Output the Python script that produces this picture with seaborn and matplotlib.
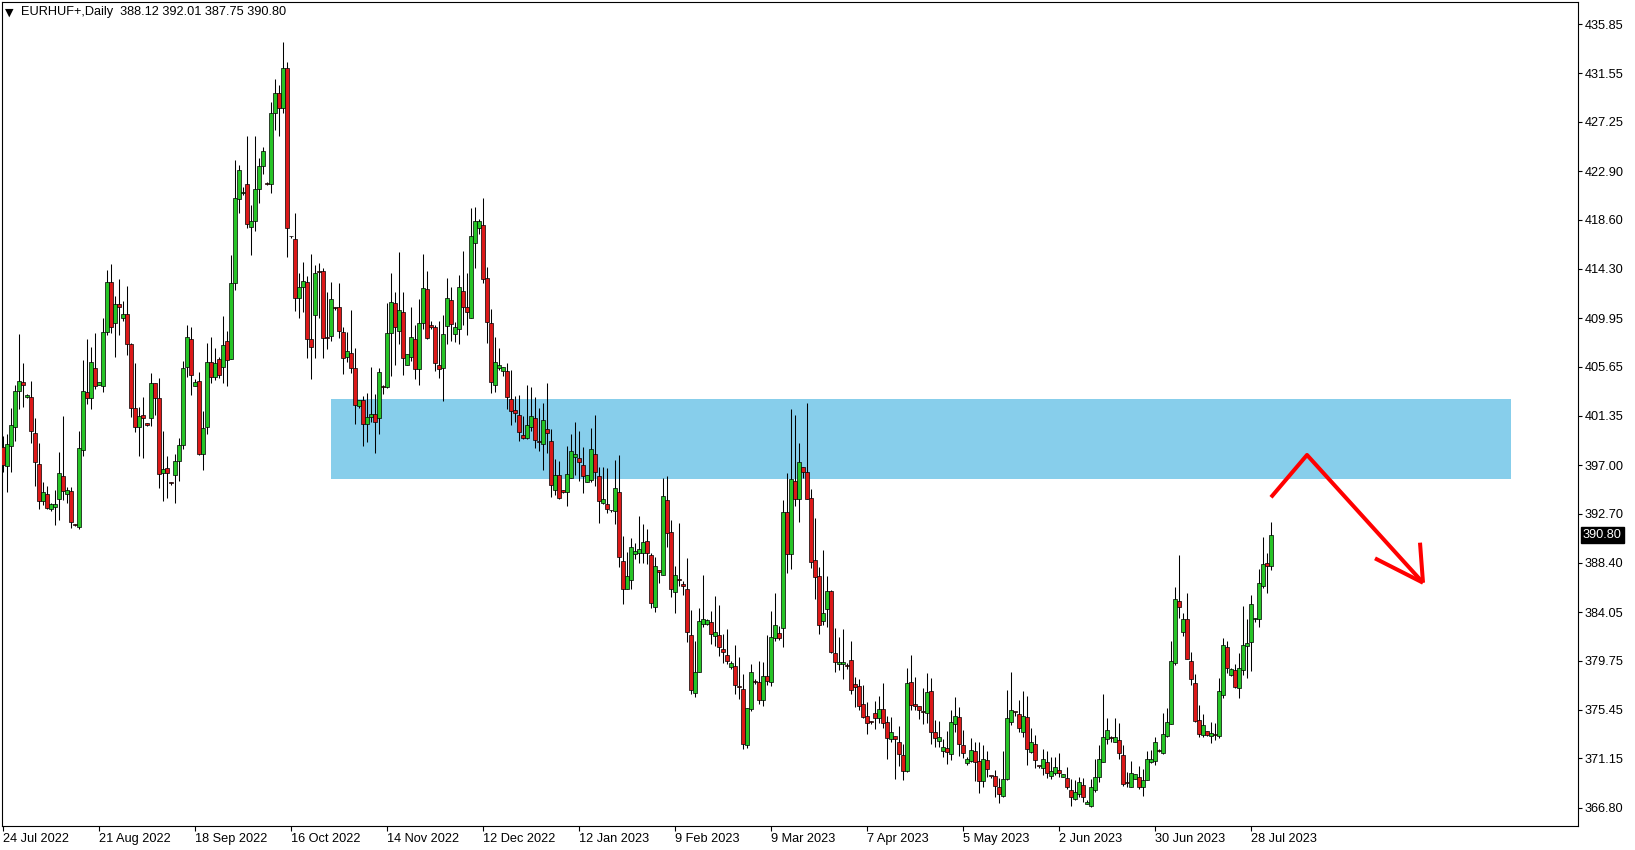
import matplotlib
matplotlib.use('Agg')
import matplotlib.pyplot as plt
import matplotlib.transforms as mtransforms
import seaborn as sns
import numpy as np
import pandas as pd

# EURHUF+ daily candles (bar 0 = 24 Jul 2022)
symbol = 'EURHUF+,Daily'
open_ = [
    398.60, 396.94, 398.71, 400.32, 403.49, 404.29, 402.97, 402.99, 399.82, 397.06,
    393.86, 394.42, 393.09, 393.27, 394.03, 396.00, 394.42, 394.71, 391.75, 391.57,
    398.29, 403.41, 402.88, 405.52, 404.08, 403.99, 408.69, 413.13, 409.49, 411.16,
    409.99, 410.31, 407.64, 402.00, 400.38, 401.41, 400.68, 401.12, 404.20, 402.88,
    396.27, 396.71, 395.39, 396.09, 397.33, 398.74, 405.61, 408.08, 403.94, 404.41,
    398.00, 400.38, 406.08, 404.73, 406.35, 405.61, 407.90, 406.32, 413.01, 420.42,
    421.00, 421.74, 417.95, 418.51, 421.30, 423.35, 421.83, 421.80, 428.00, 429.80,
    428.50, 432.00, 417.15, 416.89, 411.69, 412.66, 413.10, 408.08, 410.19, 414.01,
    414.07, 408.26, 408.37, 410.87, 410.90, 408.73, 406.49, 406.85, 405.52, 402.20,
    402.70, 400.59, 401.21, 401.53, 401.12, 403.91, 403.91, 408.61, 411.25, 408.84,
    410.46, 405.79, 406.55, 408.08, 405.43, 409.55, 412.49, 409.31, 409.14, 405.79,
    405.58, 409.22, 411.52, 408.52, 408.96, 412.31, 410.90, 409.99, 416.54, 417.86,
    418.13, 413.45, 409.52, 404.02, 405.58, 405.26, 405.29, 402.79, 401.82, 401.41,
    399.62, 399.35, 400.33, 401.12, 399.04, 398.83, 400.15, 399.12, 394.78, 396.10,
    394.78, 394.60, 395.83, 397.74, 397.60, 396.98, 395.48, 395.66, 397.98, 396.01,
    393.63, 393.54, 393.00, 392.95, 394.63, 388.55, 386.11, 386.84, 389.14, 389.22,
    389.22, 390.31, 389.08, 384.52, 387.75, 387.28, 393.89, 391.10, 385.78, 386.87,
    386.51, 386.07, 382.02, 376.91, 378.73, 382.96, 382.96, 383.16, 381.96, 382.02,
    380.76, 380.26, 379.17, 379.26, 377.47, 377.26, 372.32, 375.47, 377.91, 377.88,
    376.26, 378.41, 377.91, 381.78, 382.19, 382.61, 392.83, 389.13, 395.59, 393.98,
    396.80, 396.35, 394.06, 388.63, 387.22, 383.22, 384.28, 385.87, 380.40, 379.43,
    379.43, 379.26, 379.79, 377.67, 377.52, 375.94, 374.88, 374.39, 375.12, 374.73,
    375.50, 374.32, 372.85, 373.12, 372.59, 371.41, 370.03, 377.88, 375.91, 375.73,
    375.26, 375.12, 377.06, 373.44, 372.65, 371.83, 372.03, 371.56, 374.21, 374.79,
    372.33, 370.71, 370.95, 371.77, 370.92, 369.12, 371.01, 369.62, 369.57, 368.60,
    367.80, 369.33, 374.32, 375.21, 375.03, 373.50, 374.82, 371.68, 372.42, 370.51,
    370.27, 370.80, 369.56, 369.83, 370.12, 369.47, 369.39, 368.36, 367.56, 367.98,
    368.80, 367.09, 366.98, 368.33, 369.53, 370.80, 372.82, 372.97, 372.62, 372.76,
    371.44, 368.97, 368.59, 369.30, 369.47, 368.59, 369.24, 370.85, 370.91, 371.82,
    371.59, 373.15, 374.14, 379.52, 384.99, 382.26, 383.40, 379.70, 377.76, 374.50,
    373.18, 373.53, 373.15, 373.22, 373.09, 376.76, 380.94, 378.47, 378.91, 377.38,
    378.91, 381.02, 381.38, 383.40, 383.40, 386.37, 388.34, 388.12,
]
high = [
    399.60, 399.70, 402.03, 404.05, 408.55, 405.99, 403.26, 404.40, 401.11, 398.94,
    395.47, 395.12, 393.62, 394.80, 398.18, 401.35, 395.09, 395.09, 391.80, 400.00,
    406.26, 408.08, 407.43, 408.66, 404.30, 409.93, 414.19, 414.72, 411.93, 413.39,
    411.46, 412.78, 407.72, 405.96, 402.14, 403.03, 400.70, 405.14, 404.20, 404.64,
    400.00, 397.80, 395.51, 397.97, 399.38, 406.17, 409.34, 409.19, 404.61, 405.23,
    401.76, 407.73, 408.31, 407.34, 406.55, 410.13, 408.81, 415.48, 423.88, 423.44,
    421.47, 426.00, 419.92, 426.00, 424.09, 425.06, 421.94, 429.00, 431.00, 430.50,
    434.30, 432.50, 417.20, 419.18, 413.90, 414.87, 413.66, 415.57, 414.63, 414.84,
    414.34, 412.28, 413.10, 410.90, 413.02, 409.17, 408.76, 410.64, 407.29, 402.70,
    403.12, 403.35, 405.61, 403.23, 405.55, 404.06, 411.31, 413.90, 412.28, 415.75,
    412.28, 406.76, 410.93, 409.34, 411.63, 415.60, 414.10, 409.69, 409.34, 409.69,
    410.22, 413.45, 412.69, 409.64, 413.75, 415.86, 413.92, 419.65, 419.74, 418.68,
    420.53, 414.45, 410.75, 408.28, 407.34, 405.61, 406.02, 405.38, 403.08, 403.17,
    401.32, 404.05, 403.91, 402.97, 402.06, 402.44, 404.26, 400.15, 397.54, 397.36,
    394.78, 398.68, 399.74, 400.80, 400.01, 398.60, 396.10, 400.27, 401.42, 396.83,
    396.83, 396.74, 393.05, 397.45, 397.89, 390.78, 389.37, 390.55, 390.11, 392.51,
    391.81, 391.37, 389.22, 388.93, 387.75, 395.86, 396.03, 392.15, 388.10, 391.89,
    386.78, 388.80, 384.22, 381.49, 384.43, 387.31, 383.43, 384.13, 385.46, 384.66,
    382.08, 382.55, 379.76, 381.14, 380.08, 378.58, 375.56, 379.43, 378.11, 379.73,
    379.61, 382.02, 384.13, 385.72, 382.78, 393.89, 396.27, 401.94, 401.41, 398.91,
    396.85, 402.44, 394.86, 392.30, 387.98, 389.51, 387.22, 385.98, 382.61, 381.81,
    382.55, 379.58, 381.49, 378.32, 378.11, 377.64, 376.14, 374.44, 376.20, 376.64,
    377.82, 374.91, 374.82, 373.12, 374.00, 372.41, 379.08, 380.26, 378.29, 375.73,
    377.32, 378.67, 378.20, 374.50, 374.44, 372.83, 373.56, 375.41, 376.59, 375.68,
    373.65, 371.30, 372.94, 372.56, 372.62, 372.33, 371.77, 369.62, 370.09, 369.39,
    371.80, 377.17, 378.79, 375.21, 376.29, 377.09, 376.65, 373.80, 373.21, 370.51,
    371.97, 371.80, 371.24, 371.29, 371.59, 369.74, 370.35, 369.30, 369.24, 369.53,
    369.44, 367.48, 369.30, 371.09, 372.32, 376.82, 374.67, 373.12, 374.67, 374.29,
    372.32, 369.97, 370.94, 369.74, 370.50, 370.18, 371.82, 371.88, 373.00, 371.94,
    375.17, 375.55, 381.52, 386.25, 389.07, 383.99, 385.70, 380.52, 378.56, 375.85,
    375.03, 373.53, 374.33, 374.24, 378.20, 381.76, 381.49, 379.12, 379.44, 380.47,
    384.55, 383.43, 385.55, 383.55, 387.84, 390.66, 389.25, 392.01,
]
low = [
    396.40, 394.65, 396.41, 399.15, 401.97, 402.14, 402.88, 398.97, 395.18, 393.09,
    393.48, 393.09, 392.98, 391.71, 392.15, 393.92, 393.62, 391.42, 391.65, 391.33,
    397.77, 402.38, 401.97, 403.73, 404.08, 403.46, 408.46, 408.61, 406.55, 408.46,
    409.72, 406.70, 401.26, 399.94, 397.80, 397.59, 400.47, 400.47, 401.41, 394.95,
    393.86, 394.07, 395.27, 393.68, 395.62, 398.38, 404.79, 403.14, 403.94, 397.88,
    396.56, 399.71, 404.26, 404.49, 404.70, 404.26, 403.99, 406.32, 412.43, 419.24,
    420.83, 417.92, 415.54, 417.66, 420.12, 422.65, 421.68, 421.00, 426.50, 426.00,
    428.00, 415.37, 417.05, 410.61, 409.93, 410.46, 406.46, 404.55, 406.41, 409.93,
    406.46, 407.20, 407.96, 410.66, 408.23, 405.00, 406.11, 405.14, 400.65, 402.06,
    398.71, 399.06, 400.82, 398.09, 399.77, 403.26, 403.76, 404.85, 405.82, 407.70,
    404.94, 405.79, 406.20, 404.58, 404.05, 408.99, 408.11, 408.99, 405.29, 404.70,
    402.64, 407.70, 407.93, 407.84, 407.70, 409.34, 408.46, 409.93, 414.39, 417.39,
    413.07, 407.78, 403.32, 403.47, 405.35, 404.88, 401.91, 400.56, 400.82, 399.15,
    399.27, 399.27, 400.03, 398.48, 398.27, 396.54, 398.10, 394.22, 394.39, 393.98,
    394.57, 393.42, 395.83, 396.13, 395.63, 394.57, 395.48, 395.54, 395.19, 391.93,
    393.57, 392.75, 392.90, 391.78, 388.05, 384.73, 386.05, 386.11, 388.72, 388.40,
    388.34, 388.25, 384.44, 384.08, 386.63, 387.28, 389.80, 385.34, 383.99, 386.37,
    385.54, 381.43, 376.79, 376.58, 378.73, 382.75, 382.90, 381.20, 381.08, 380.17,
    379.52, 379.43, 378.99, 376.79, 376.35, 371.94, 372.03, 375.32, 377.73, 375.91,
    375.79, 377.61, 377.55, 381.49, 381.61, 380.96, 387.51, 387.84, 393.36, 392.01,
    395.83, 393.98, 387.95, 385.16, 382.08, 382.90, 382.69, 380.40, 378.73, 378.93,
    378.11, 378.99, 376.82, 375.70, 375.41, 374.73, 373.26, 374.17, 373.70, 374.23,
    373.79, 371.06, 372.62, 369.30, 370.47, 369.24, 369.97, 375.41, 375.41, 374.62,
    374.18, 374.24, 372.42, 372.18, 372.18, 371.30, 370.62, 371.00, 373.50, 371.39,
    371.15, 370.56, 370.86, 369.15, 368.13, 368.65, 369.54, 369.45, 367.77, 367.19,
    367.77, 369.24, 374.09, 374.91, 373.44, 373.06, 370.56, 371.65, 370.27, 370.33,
    369.68, 369.39, 369.33, 369.68, 369.47, 369.47, 368.42, 366.98, 367.48, 367.77,
    367.33, 367.09, 366.89, 368.21, 369.09, 370.80, 372.38, 372.62, 372.56, 371.06,
    368.71, 368.59, 368.59, 369.30, 368.45, 367.86, 369.24, 370.71, 370.56, 371.68,
    371.50, 373.06, 374.14, 379.37, 383.55, 381.96, 379.88, 377.59, 374.33, 373.00,
    373.00, 373.15, 372.53, 372.77, 372.92, 376.50, 378.64, 378.41, 377.32, 376.50,
    378.50, 378.20, 378.88, 383.20, 382.76, 386.19, 385.75, 387.75,
]
close = [
    397.00, 398.82, 400.50, 403.52, 404.38, 404.02, 403.17, 400.03, 397.24, 393.86,
    394.59, 393.24, 393.54, 393.54, 396.30, 394.74, 394.77, 391.95, 391.73, 398.50,
    403.52, 402.94, 406.05, 403.99, 404.29, 408.72, 413.13, 409.19, 411.16, 410.90,
    410.31, 407.64, 402.05, 400.38, 401.35, 401.12, 400.53, 404.20, 402.88, 396.18,
    396.62, 396.33, 395.35, 397.33, 398.74, 405.52, 408.25, 404.91, 404.32, 398.00,
    400.26, 406.08, 404.73, 405.96, 404.91, 407.61, 406.26, 413.01, 420.50, 422.97,
    421.00, 418.21, 418.51, 421.33, 423.35, 424.68, 421.74, 428.00, 429.80, 428.50,
    432.00, 417.86, 417.10, 411.69, 412.66, 413.19, 408.08, 407.37, 413.90, 414.00,
    408.17, 408.17, 411.61, 410.85, 408.81, 406.46, 407.02, 405.52, 402.26, 402.70,
    400.59, 401.21, 401.53, 400.82, 405.23, 403.90, 408.61, 411.40, 409.14, 410.63,
    406.46, 406.76, 408.25, 405.43, 409.49, 412.57, 408.23, 409.14, 406.02, 405.49,
    408.52, 411.69, 409.40, 409.14, 412.66, 410.90, 410.46, 417.16, 418.48, 418.48,
    413.37, 409.58, 404.29, 406.05, 405.79, 405.61, 402.97, 401.79, 401.56, 399.94,
    399.41, 400.53, 401.33, 399.24, 399.02, 400.95, 399.80, 395.22, 396.10, 394.13,
    394.66, 396.19, 398.24, 397.95, 397.30, 396.01, 396.10, 398.42, 396.42, 393.87,
    394.01, 393.10, 392.95, 394.95, 388.90, 386.11, 387.23, 389.78, 389.43, 389.61,
    390.19, 389.22, 384.88, 388.11, 387.60, 394.24, 391.04, 386.04, 387.28, 386.85,
    386.31, 382.25, 377.14, 378.76, 383.25, 383.40, 383.34, 382.08, 382.25, 380.99,
    380.49, 379.70, 379.55, 377.58, 377.45, 372.44, 375.56, 378.73, 377.90, 376.26,
    378.38, 377.94, 381.84, 382.90, 381.72, 392.83, 389.13, 395.74, 393.98, 397.24,
    396.38, 394.03, 388.48, 387.16, 382.93, 383.93, 385.87, 380.49, 379.61, 379.64,
    379.64, 379.25, 377.20, 377.47, 375.79, 374.82, 374.29, 374.37, 374.73, 375.50,
    374.29, 372.91, 373.44, 372.82, 371.50, 370.03, 377.79, 375.85, 375.79, 375.38,
    375.18, 376.97, 373.50, 372.91, 373.00, 372.12, 371.74, 374.32, 374.88, 372.44,
    371.59, 371.06, 371.86, 370.86, 369.15, 371.09, 370.18, 369.60, 368.71, 367.98,
    369.30, 374.71, 375.38, 375.20, 373.80, 374.85, 371.95, 372.56, 371.03, 370.50,
    371.06, 369.83, 370.03, 370.35, 369.83, 369.74, 368.59, 367.77, 368.21, 369.03,
    367.77, 367.30, 368.62, 369.47, 371.09, 373.00, 373.62, 372.95, 373.00, 371.59,
    368.89, 368.95, 369.83, 369.74, 368.59, 369.24, 371.09, 371.09, 372.56, 371.80,
    373.29, 374.32, 379.70, 385.16, 384.46, 383.40, 379.88, 378.12, 374.47, 373.27,
    374.06, 373.21, 373.36, 373.20, 377.06, 381.11, 379.14, 379.00, 377.47, 379.09,
    381.11, 381.29, 384.73, 383.40, 386.58, 388.25, 388.13, 390.80,
]

date_labels = ['24 Jul 2022', '21 Aug 2022', '18 Sep 2022', '16 Oct 2022', '14 Nov 2022',
               '12 Dec 2022', '12 Jan 2023', '9 Feb 2023', '9 Mar 2023', '7 Apr 2023',
               '5 May 2023', '2 Jun 2023', '30 Jun 2023', '28 Jul 2023']
price_labels = [435.85, 431.55, 427.25, 422.90, 418.60, 414.30, 409.95, 405.65, 401.35,
                397.00, 392.70, 388.40, 384.05, 379.75, 375.45, 371.15, 366.80]

# resistance zone drawn on the chart
zone_top = 402.82
zone_bottom = 395.77
zone_bars = [82, 377]

# hand drawn red arrow (bar index, price)
arrow_bar = [317, 326, 355]
arrow_price = [394.16, 397.89, 386.63]
head_left_bar = [343, 355]
head_left_price = [388.78, 386.63]
head_right_bar = [354.25, 355]
head_right_price = [390.16, 386.63]

df = pd.DataFrame({'open': open_, 'high': high, 'low': low, 'close': close})
df['bar'] = np.arange(len(df))
df['up'] = df['close'] >= df['open']

sns.set_theme(style='white')
plt.rcParams['font.family'] = ['Liberation Sans', 'DejaVu Sans']
plt.rcParams['text.color'] = 'black'
plt.rcParams['xtick.color'] = 'black'
plt.rcParams['ytick.color'] = 'black'

W, H = 1635, 850
fig = plt.figure(figsize=(W / 100, H / 100), dpi=100)
fig.patch.set_facecolor('white')
ax = fig.add_axes([2 / W, 24 / H, 1576 / W, 824 / H])
ax.set_facecolor('white')

# zone
ax.fill_between(zone_bars, zone_bottom, zone_top, color='#87ceeb', lw=0, zorder=0)

# candles
body = df['close'] - df['open']
body = np.where(body.abs() < 0.08, 0.08, body)
colors = np.where(df['up'], '#26c426', '#dc1818')
ax.vlines(df['bar'], df['low'], df['high'], color='black', lw=0.75, zorder=2)
ax.bar(df['bar'], body, bottom=df['open'], width=0.76, color=colors,
       edgecolor='black', linewidth=0.5, zorder=3)

# arrow
for bx, py in [(arrow_bar, arrow_price), (head_left_bar, head_left_price),
               (head_right_bar, head_right_price)]:
    sns.lineplot(x=bx, y=py, ax=ax, color='#ff0000', lw=2.9, sort=False,
                 estimator=None, zorder=5, solid_capstyle='butt')

ax.set_xlim(-0.25, 393.75)
ax.set_ylim(365.19, 437.81)

ax.yaxis.tick_right()
ax.set_yticks(price_labels)
ax.set_yticklabels(['%.2f' % p for p in price_labels], fontsize=9.2)
ax.set_xticks(np.arange(len(date_labels)) * 24)
ax.set_xticklabels(date_labels, fontsize=9.2, ha='left')
ax.tick_params(axis='y', which='both', right=True, left=False, length=3, width=0.8, pad=2)
ax.tick_params(axis='x', which='both', bottom=True, length=3.5, width=0.8, pad=1.5)
for s in ax.spines.values():
    s.set_color('black')
    s.set_linewidth(0.8)
ax.grid(False)

# last price tag
trans = mtransforms.blended_transform_factory(ax.transAxes, ax.transData)
ax.text(1 + 5 / 1576, close[-1], '%.2f' % close[-1], transform=trans, ha='left', va='center',
        fontsize=9.2, color='white', clip_on=False,
        bbox=dict(facecolor='black', edgecolor='black', pad=1.4))

# header
fig.text(5 / W, 1 - 13 / H, '\u25bc', fontsize=8, va='center', ha='left', family=['DejaVu Sans'])
fig.text(21 / W, 1 - 12 / H, '%s  %.2f %.2f %.2f %.2f'
         % (symbol, open_[-1], high[-1], low[-1], close[-1]), fontsize=9.2, va='center', ha='left')

fig.savefig('out.png', dpi=100, facecolor='white')
